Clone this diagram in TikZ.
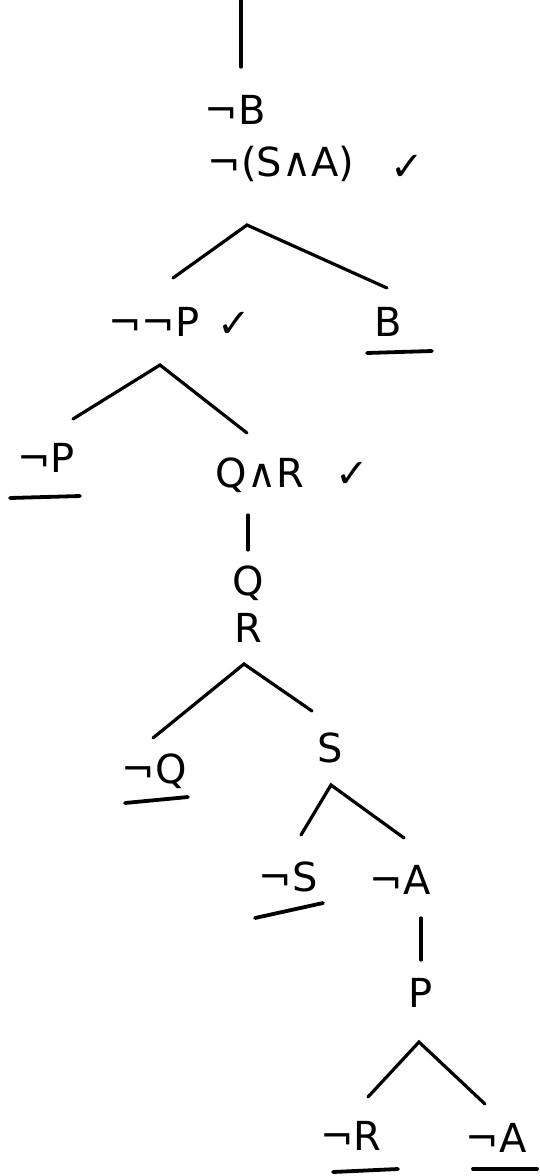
\documentclass[tikz,border=0pt]{standalone}
\usepackage{fontspec}
\setmainfont{DejaVu Sans}

\begin{document}
\begin{tikzpicture}[
  x=1pt,y=-1pt,
  formula/.style={inner sep=1pt,font=\fontsize{40}{44}\selectfont},
  tick/.style={inner sep=1pt,font=\fontsize{40}{44}\selectfont},
  branch/.style={line width=3.2pt,line cap=round},
  closed/.style={line width=3.8pt,line cap=round}
]
  \useasboundingbox (0,0) rectangle (539,1176);

  % trunk
  \coordinate (t0) at (241,0);
  \coordinate (t1) at (241,67);
  \draw[branch] (t0) -- (t1);
  \node[formula] (nb) at (235,110) {¬B};
  \node[formula] (nsa) at (281,164) {¬(S∧A)};
  \node[tick] (ck1) at (407,168) {✓};

  % first split
  \coordinate (ap1) at (247,225);
  \coordinate (l1) at (173,278);
  \coordinate (r1) at (387,288);
  \draw[branch] (l1) -- (ap1) -- (r1);
  \node[formula] (nnp) at (154,322) {¬¬P};
  \node[tick] (ck2) at (234,325) {✓};
  \node[formula] (b) at (388,322) {B};
  \coordinate (bl) at (367,353);
  \coordinate (br) at (432,351);
  \draw[closed] (bl) -- (br);

  % second split
  \coordinate (ap2) at (160,365);
  \coordinate (l2) at (73,419);
  \coordinate (r2) at (247,433);
  \draw[branch] (l2) -- (ap2) -- (r2);
  \node[formula] (np) at (46,458) {¬P};
  \coordinate (npl) at (10,498);
  \coordinate (npr) at (80,496);
  \draw[closed] (npl) -- (npr);
  \node[formula] (qr) at (260,475) {Q∧R};
  \node[tick] (ck3) at (352,475) {✓};

  \coordinate (v1) at (248,515);
  \coordinate (v2) at (248,550);
  \draw[branch] (v1) -- (v2);
  \node[formula] (q) at (248,583) {Q};
  \node[formula] (r) at (248,628) {R};

  % third split
  \coordinate (ap3) at (244,664);
  \coordinate (l3) at (153,738);
  \coordinate (r3) at (312,711);
  \draw[branch] (l3) -- (ap3) -- (r3);
  \node[formula] (nq) at (154,771) {¬Q};
  \coordinate (nql) at (125,803);
  \coordinate (nqr) at (188,797);
  \draw[closed] (nql) -- (nqr);
  \node[formula] (s) at (330,748) {S};

  % fourth split
  \coordinate (ap4) at (331,785);
  \coordinate (l4) at (301,835);
  \coordinate (r4) at (404,838);
  \draw[branch] (l4) -- (ap4) -- (r4);
  \node[formula] (ns) at (288,877) {¬S};
  \coordinate (nsl) at (255,918);
  \coordinate (nsr) at (323,903);
  \draw[closed] (nsl) -- (nsr);
  \node[formula] (na) at (400,880) {¬A};

  \coordinate (v3) at (421,918);
  \coordinate (v4) at (421,960);
  \draw[branch] (v3) -- (v4);
  \node[formula] (p) at (421,993) {P};

  % fifth split
  \coordinate (ap5) at (419,1042);
  \coordinate (l5) at (368,1097);
  \coordinate (r5) at (485,1104);
  \draw[branch] (l5) -- (ap5) -- (r5);
  \node[formula] (nr) at (351,1136) {¬R};
  \coordinate (nrl) at (333,1172);
  \coordinate (nrr) at (398,1169);
  \draw[closed] (nrl) -- (nrr);
  \node[formula] (na2) at (496,1138) {¬A};
  \coordinate (nal) at (473,1169);
  \coordinate (nar) at (537,1169);
  \draw[closed] (nal) -- (nar);
\end{tikzpicture}
\end{document}
